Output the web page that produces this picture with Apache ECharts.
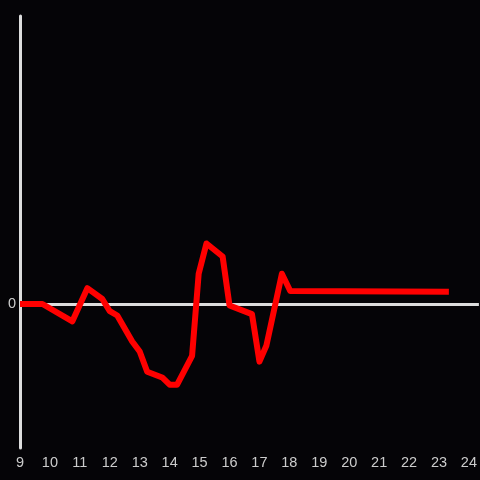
<!DOCTYPE html>
<html>
<head>
<meta charset="utf-8">
<script src="https://cdn.jsdelivr.net/npm/echarts@6/dist/echarts.min.js"></script>
<style>
  html, body { margin: 0; padding: 0; background: #050407; }
  #chart { width: 480px; height: 480px; }
</style>
</head>
<body>
<div id="chart"></div>
<script>
// hour of day, value
const hours = [9, 9.75, 10.75, 11.25, 11.75, 12, 12.25, 12.75, 13, 13.25, 13.75, 14, 14.25, 14.75, 14.97, 15.23, 15.77, 16, 16.75, 17, 17.23, 17.75, 18.03, 23.33];
const values = [0, 0, -0.12, 0.11, 0.035, -0.05, -0.08, -0.26, -0.33, -0.47, -0.51, -0.56, -0.56, -0.36, 0.21, 0.42, 0.33, -0.01, -0.07, -0.4, -0.29, 0.21, 0.09, 0.085];
const xTicks = [9, 24];

const chart = echarts.init(document.getElementById('chart'), null, { renderer: 'canvas' });
chart.setOption({
  backgroundColor: '#050407',
  animation: false,
  grid: { left: 20, right: 0, top: 16, bottom: 32 },
  xAxis: {
    type: 'value',
    min: xTicks[0],
    max: 24.333,
    interval: 1,
    axisLine: { show: false, onZero: false },
    axisTick: { show: false },
    splitLine: { show: false },
    axisLabel: { color: '#cccccc', fontSize: 14.5, fontFamily: 'Liberation Sans', margin: 7, showMaxLabel: false,
      formatter: v => (v <= xTicks[1] ? String(v) : '') }
  },
  yAxis: {
    type: 'value',
    min: -1,
    max: 2,
    interval: 1,
    axisLine: { show: true, lineStyle: { color: '#dddddd', width: 3 } },
    axisTick: { show: false },
    splitLine: { show: false },
    axisLabel: { color: '#cccccc', fontSize: 14.5, fontFamily: 'Liberation Sans', margin: 4,
      formatter: v => (v === 0 ? '0' : '') }
  },
  series: [{
    // zero line, kept under the data line
    type: 'line',
    data: [],
    z: 1,
    markLine: {
      silent: true,
      symbol: 'none',
      label: { show: false },
      lineStyle: { color: '#dddddd', width: 3, type: 'solid' },
      data: [{ yAxis: 0 }]
    }
  }, {
    type: 'line',
    data: hours.map((h, i) => [h, values[i]]),
    symbol: 'none',
    lineStyle: { color: '#ff0000', width: 6, join: 'round' },
    z: 5
  }]
});
</script>
</body>
</html>
